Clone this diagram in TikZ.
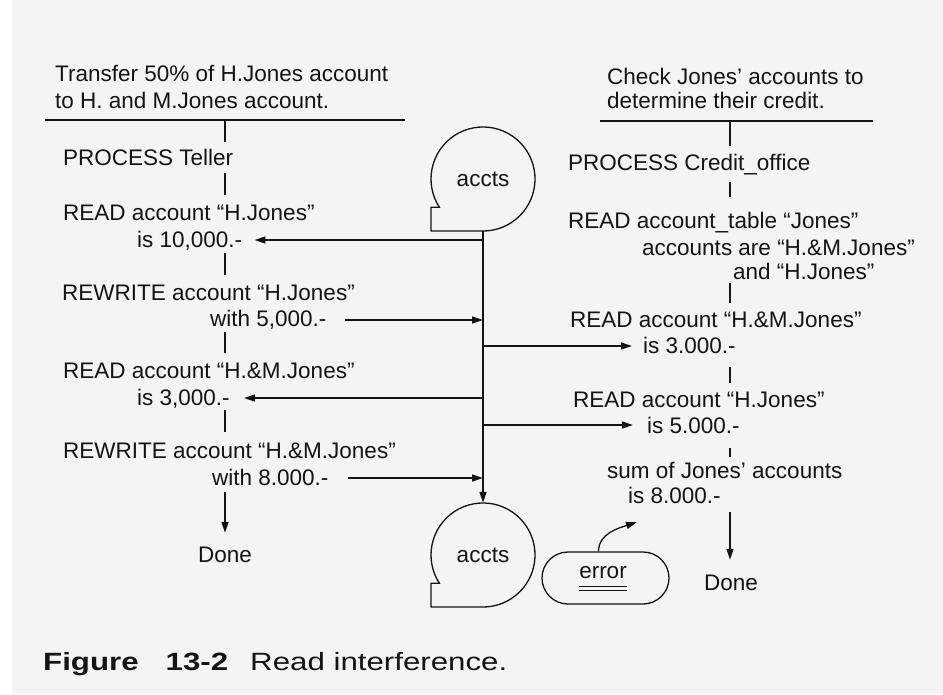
\documentclass[tikz,border=0pt]{standalone}
\usepackage{fontspec}
\setmainfont{Liberation Sans}
\newfontfamily\capfont[FakeStretch=1.25]{Liberation Sans}
\usetikzlibrary{arrows.meta,calc,shapes.misc}
\definecolor{pagebg}{gray}{0.955}
\definecolor{ink}{gray}{0.08}
\begin{document}
\begin{tikzpicture}[x=1pt,y=-1pt,
  txt/.style={font=\fontsize{22.5}{26}\selectfont, text=ink, inner sep=0pt,
              text height=15pt, text depth=4pt, anchor=base west},
  bar/.style={draw=ink, line width=1.3pt},
  arr/.style={draw=ink, line width=1.3pt, -{Triangle[length=11pt,width=7pt]}},
  store/.style={circle, minimum size=104pt, inner sep=0pt,
                font=\fontsize{22.5}{26}\selectfont, text=ink},
  errbox/.style={draw=ink, line width=1.3pt, rounded rectangle,
                 minimum width=127pt, minimum height=52pt, inner sep=0pt},
  uline/.style={draw=ink, line width=1pt}
]
\fill[white] (0,0) rectangle (943,694);
\fill[pagebg] (12,0) rectangle (943,694);
\useasboundingbox (0,0) rectangle (943,694);

% ---------- left column ----------
\node[txt] (L1) at (55,81) {Transfer 50\% of H.Jones account};
\node[txt] (L2) at (55,108) {to H. and M.Jones account.};
\coordinate (ruleLa) at (45,120);
\coordinate (ruleLb) at (405,120);
\coordinate (colL) at (225,120);
\node[txt] (L3) at (63,165) {PROCESS Teller};
\node[txt] (L4) at (63,220) {READ account “H.Jones”};
\node[txt] (L5) at (137,247) {is 10,000.-};
\node[txt] (L6) at (62,300) {REWRITE account “H.Jones”};
\node[txt] (L7) at (210,326) {with 5,000.-};
\node[txt] (L8) at (63,378) {READ account “H.\&M.Jones”};
\node[txt] (L9) at (137,405) {is 3,000.-};
\node[txt] (L10) at (63,458) {REWRITE account “H.\&M.Jones”};
\node[txt] (L11) at (212,485) {with 8.000.-};
\node[txt, anchor=base] (L12) at (225,562) {Done};

\draw[bar] (ruleLa) -- (ruleLb);
\draw[bar, shorten >=8pt] (colL) -- (colL |- L3.north);
\draw[bar, shorten <=4pt, shorten >=10pt] (L3.south -| colL) -- (colL |- L4.north);
\draw[bar, shorten <=2pt, shorten >=10pt] (L5.south -| colL) -- (colL |- L6.north);
\draw[bar, shorten <=2pt, shorten >=10pt] (L7.south -| colL) -- (colL |- L8.north);
\draw[bar, shorten <=1pt, shorten >=11pt] (L9.south -| colL) -- (colL |- L10.north);
\draw[arr, shorten <=3pt, shorten >=14pt] (L11.south -| colL) -- (L12.north);

% ---------- right column ----------
\node[txt] (R1) at (607,84) {Check Jones’ accounts to};
\node[txt] (R2) at (607,108) {determine their credit.};
\coordinate (ruleRa) at (600,121);
\coordinate (ruleRb) at (873,121);
\coordinate (colR) at (730,121);
\node[txt] (R3) at (568,170) {PROCESS Credit\_office};
\node[txt] (R4) at (568,228) {READ account\_table “Jones”};
\node[txt] (R5) at (642,255) {accounts are “H.\&M.Jones”};
\node[txt] (R6) at (733,279) {and “H.Jones”};
\node[txt] (R7) at (570,327) {READ account “H.\&M.Jones”};
\node[txt] (R8) at (643,353) {is 3.000.-};
\node[txt] (R9) at (573,407) {READ account “H.Jones”};
\node[txt] (R10) at (647,433) {is 5.000.-};
\node[txt] (R11) at (607,478) {sum of Jones’ accounts};
\node[txt] (R12) at (628,503) {is 8.000.-};
\node[txt, anchor=base] (R13) at (731,590) {Done};

\draw[bar] (ruleRa) -- (ruleRb);
\draw[bar, shorten >=9pt] (colR) -- (colR |- R3.north);
\draw[bar, shorten <=8pt, shorten >=16pt] (R3.south -| colR) -- (colR |- R4.north);
\draw[bar, shorten <=0pt, shorten >=9pt] (R6.south -| colR) -- (colR |- R7.north);
\draw[bar, shorten <=10pt, shorten >=9pt] (R8.south -| colR) -- (colR |- R9.north);
\draw[bar, shorten <=11pt, shorten >=6pt] (R10.south -| colR) -- (colR |- R11.north);
\draw[arr, shorten <=5pt, shorten >=15pt] (R12.south -| colR) -- (colR |- R13.north);

% ---------- central stores ----------
\node[store] (A1) at (483,179) {accts};
\node[store] (A2) at (483,555) {accts};
\foreach \s in {A1,A2}{
  \draw[bar] ($(\s.center)+(-43.6,28.3)$) arc[start angle=147, end angle=450, radius=52]
     -- ($(\s.center)+(-52,52)$) -- ($(\s.center)+(-52,28.3)$) -- cycle;
}
\draw[arr] (A1.south) -- (A2.north);

\coordinate (k1) at (483,240);
\coordinate (k2) at (483,320);
\coordinate (k3) at (483,346);
\coordinate (k4) at (483,398);
\coordinate (k5) at (483,425);
\coordinate (k6) at (483,478);
\draw[arr] (k1) -- ([xshift=12pt]k1 -| L5.east);
\draw[arr] ([xshift=18pt]k2 -| L7.east) -- (k2);
\draw[arr] (k3) -- ([xshift=-11pt]k3 -| R8.west);
\draw[arr] (k4) -- ([xshift=14pt]k4 -| L9.east);
\draw[arr] (k5) -- ([xshift=-14pt]k5 -| R10.west);
\draw[arr] ([xshift=19pt]k6 -| L11.east) -- (k6);

% ---------- error ----------
\node[errbox] (err) at (605.5,578) {};
\node[txt, anchor=base] (errt) at (603,578) {error};
\draw[uline] ([yshift=-8pt]errt.base west) -- ([yshift=-8pt]errt.base east);
\draw[uline] ([yshift=-12pt]errt.base west) -- ([yshift=-12pt]errt.base east);
\coordinate (errtip) at (637,522);
\draw[arr] ([xshift=-7pt]err.north) .. controls +(0,-18) and +(-18,6) .. (errtip);

% ---------- caption ----------
\node[anchor=base west, inner sep=0pt, text=ink] (cap) at (43,670)
  {\capfont\fontsize{25}{28}\selectfont\bfseries Figure\hspace{27pt}13-2\hspace{22pt}\mdseries Read interference.};
\end{tikzpicture}
\end{document}
